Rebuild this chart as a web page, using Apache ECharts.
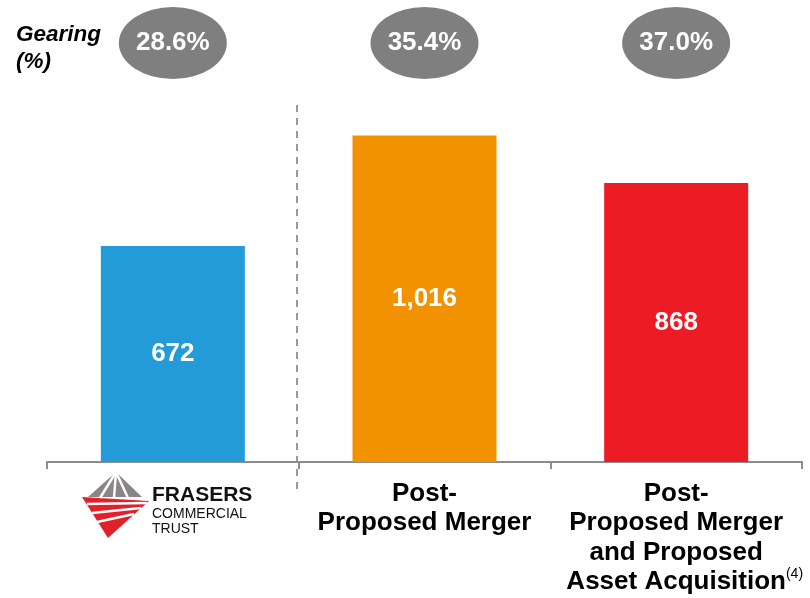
<!DOCTYPE html>
<html>
<head>
<meta charset="utf-8">
<script src="https://cdn.jsdelivr.net/npm/echarts@6/dist/echarts.min.js"></script>
<style>
  html, body { margin: 0; padding: 0; background: #fff; }
  #chart { width: 810px; height: 598px; }
</style>
</head>
<body>
<div id="chart"></div>
<script>
// values
const categories = ['Frasers Commercial Trust', 'Post-\nProposed Merger', 'Post-\nProposed Merger\nand Proposed\nAsset Acquisition']
const values = [672, 1016, 868]
const gearing = [28.6, 35.4, 37.0]
const barColors = ['#229BD8', '#F29200', '#ED1C24']

const FONT = '"Liberation Sans", Arial, sans-serif'
const chart = echarts.init(document.getElementById('chart'))

const labelFormatter = (val, idx) => {
  if (idx === 0) return ''
  if (idx === 2) return val.replace('Asset Acquisition', '{sp|(4)}Asset Acquisition{sup|(4)}')
  return val
}

chart.setOption({
  animation: false,
  title: {
    text: 'Gearing\n(%)',
    left: 11,
    top: 16,
    textStyle: { fontFamily: FONT, fontSize: 22.5, fontWeight: 'bold', fontStyle: 'italic', color: '#000', lineHeight: 27 }
  },
  grid: [
    { left: 47, right: 8, top: 108.5, bottom: 136 },
    { left: 47, right: 8, top: 0, height: 86 }
  ],
  xAxis: [
    {
      type: 'category',
      gridIndex: 0,
      data: categories,
      axisLine: { lineStyle: { color: '#8c8c8c', width: 2 } },
      axisTick: { show: true, length: 7, lineStyle: { color: '#8c8c8c', width: 2 } },
      axisLabel: {
        interval: 0,
        margin: 17,
        fontFamily: FONT,
        fontSize: 26,
        fontWeight: 'bold',
        color: '#000',
        lineHeight: 29.5,
        formatter: labelFormatter,
        rich: {
          sp: { fontSize: 14, lineHeight: 14, color: 'transparent', verticalAlign: 'top' },
          sup: { fontSize: 14, lineHeight: 14, color: '#000', fontWeight: 'normal', verticalAlign: 'top', fontFamily: FONT }
        }
      }
    },
    { type: 'category', gridIndex: 1, data: categories, show: false }
  ],
  yAxis: [
    { type: 'value', gridIndex: 0, min: 0, max: 1100, show: false, splitLine: { show: false } },
    { type: 'value', gridIndex: 1, min: 0, max: 2, show: false, splitLine: { show: false } }
  ],
  series: [
    {
      type: 'bar',
      xAxisIndex: 0,
      yAxisIndex: 0,
      barWidth: 144,
      data: values.map((v, i) => ({ value: v, itemStyle: { color: barColors[i] } })),
      label: {
        show: true,
        position: 'inside',
        fontFamily: FONT,
        fontSize: 26,
        fontWeight: 'bold',
        color: '#fff',
        formatter: p => p.value.toLocaleString('en-US')
      }
    },
    {
      type: 'scatter',
      xAxisIndex: 1,
      yAxisIndex: 1,
      symbol: 'circle',
      symbolSize: [108, 72],
      itemStyle: { color: '#7F7F7F', opacity: 1 },
      data: gearing.map((g, i) => [i, 1]),
      label: {
        show: true,
        position: 'inside',
        fontFamily: FONT,
        fontSize: 26,
        fontWeight: 'bold',
        color: '#fff',
        formatter: p => gearing[p.dataIndex].toFixed(1) + '%'
      }
    }
  ],
  graphic: [
    // divider between current and pro-forma
    { type: 'line', shape: { x1: 297, y1: 105, x2: 297, y2: 492 }, style: { stroke: '#9a9a9a', lineWidth: 2, lineDash: [7, 6] } },
    // FCT logo, rough emblem
    { type: 'polygon', shape: { points: [[116, 472], [88, 497], [142, 497]] }, style: { fill: '#8a8586' } },
    { type: 'polygon', shape: { points: [[82, 497], [149, 501], [108, 538]] }, style: { fill: '#E3202A' } },
    { type: 'line', shape: { x1: 116, y1: 472, x2: 100, y2: 498 }, style: { stroke: '#fff', lineWidth: 2.5 } },
    { type: 'line', shape: { x1: 116, y1: 472, x2: 114, y2: 498 }, style: { stroke: '#fff', lineWidth: 2.5 } },
    { type: 'line', shape: { x1: 116, y1: 472, x2: 128, y2: 498 }, style: { stroke: '#fff', lineWidth: 2.5 } },
    { type: 'line', shape: { x1: 87, y1: 504, x2: 147, y2: 503 }, style: { stroke: '#fff', lineWidth: 2.5 } },
    { type: 'line', shape: { x1: 92, y1: 513, x2: 141, y2: 508 }, style: { stroke: '#fff', lineWidth: 2.5 } },
    { type: 'line', shape: { x1: 97, y1: 522, x2: 134, y2: 514 }, style: { stroke: '#fff', lineWidth: 2.5 } },
    { type: 'text', x: 152, y: 495.7, style: { text: 'FRASERS', fontFamily: FONT, fontSize: 21, fontWeight: 'bold', fill: '#111', verticalAlign: 'middle' } },
    { type: 'text', x: 152, y: 514, style: { text: 'COMMERCIAL', fontFamily: FONT, fontSize: 14, fill: '#111', verticalAlign: 'middle' } },
    { type: 'text', x: 152, y: 529, style: { text: 'TRUST', fontFamily: FONT, fontSize: 14, fill: '#111', verticalAlign: 'middle' } }
  ]
})
</script>
</body>
</html>
